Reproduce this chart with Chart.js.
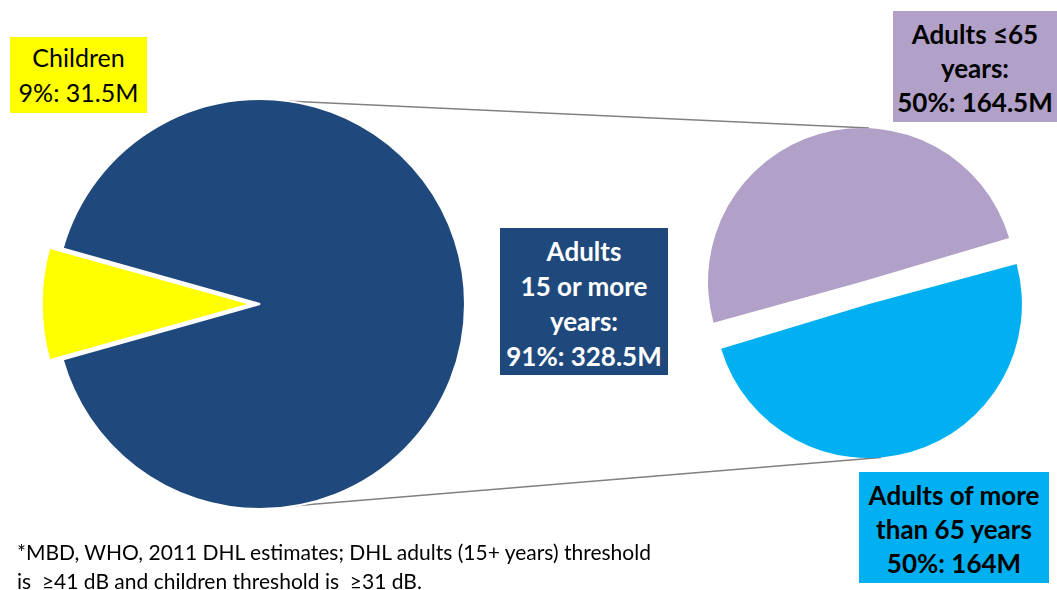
<!DOCTYPE html>
<html>
<head>
<meta charset="utf-8">
<script src="https://cdn.jsdelivr.net/npm/chart.js@4.4.1/dist/chart.umd.min.js"></script>
<style>
  html, body { margin: 0; padding: 0; background: #fff; }
  #stage { position: relative; width: 1057px; height: 590px; overflow: hidden; font-family: Lato, 'Open Sans', sans-serif; }
  canvas { position: absolute; }
  #links { left: 0; top: 0; z-index: 0; }
  #leftPie { left: 10px; top: 54px; z-index: 1; }
  #rightPie { left: 675px; top: 103px; z-index: 1; }
  .box { position: absolute; z-index: 2; box-sizing: border-box; display: flex; flex-direction: column; justify-content: center; text-align: center; color: #000; font-size: 26px; line-height: 35px; font-weight: bold; white-space: nowrap; }
  #boxChildren { left: 10px; top: 37px; width: 137px; height: 76px; background: #FFFF00; font-weight: normal; font-size: 25px; }
  #boxAdults { left: 500px; top: 228px; width: 168px; height: 147px; background: #1F497D; color: #fff; padding-top: 4px; }
  #boxUnder65 { left: 893px; top: 11px; width: 164px; height: 111px; background: #B1A0C7; line-height: 34px; padding-top: 3px; }
  #boxOver65 { left: 859px; top: 472px; width: 190px; height: 111px; background: #00B0F0; line-height: 34px; padding-top: 3px; }
  #note { position: absolute; left: 17px; top: 537px; font-size: 21px; line-height: 29px; white-space: pre; color: #000; }
</style>
</head>
<body>
<div id="stage">
  <canvas id="links" width="1057" height="590"></canvas>
  <canvas id="leftPie" width="500" height="500"></canvas>
  <canvas id="rightPie" width="380" height="380"></canvas>
  <div class="box" id="boxChildren"></div>
  <div class="box" id="boxAdults"></div>
  <div class="box" id="boxUnder65"></div>
  <div class="box" id="boxOver65"></div>
  <div id="note"></div>
</div>
<script>
// 数据：全体人群（百万）
const leftLabels = ['Children', 'Adults 15 or more years'];
const leftValues = [31.5, 328.5];
const leftPercents = [9, 91];
const leftColors = ['#FFFF00', '#1F497D'];

// 数据：成年人拆分（百万）
const rightLabels = ['Adults ≤65 years', 'Adults of more than 65 years'];
const rightValues = [164.5, 164];
const rightPercents = [50, 50];
const rightColors = ['#B1A0C7', '#00B0F0'];

const noteLines = [
  '*MBD, WHO, 2011 DHL estimates; DHL adults (15+ years) threshold',
  'is  \u226541 dB and children threshold is  \u226531 dB.'
];

function valueText(pct, val) {
  return `${pct}%: ${val}M`;
}

// 标签框文字
function fillBox(id, lines) {
  const el = document.getElementById(id);
  lines.forEach(t => {
    const d = document.createElement('div');
    d.textContent = t;
    el.appendChild(d);
  });
}
fillBox('boxChildren', ['Children', valueText(leftPercents[0], leftValues[0])]);
fillBox('boxAdults', ['Adults', '15 or more', 'years:', valueText(leftPercents[1], leftValues[1])]);
fillBox('boxUnder65', ['Adults \u226465', 'years:', valueText(rightPercents[0], rightValues[0])]);
fillBox('boxOver65', ['Adults of more', 'than 65 years', valueText(rightPercents[1], rightValues[1])]);
document.getElementById('note').textContent = noteLines.join('\n');

const baseOptions = {
  responsive: false,
  animation: false,
  events: [],
  layout: { padding: 0 },
  plugins: { legend: { display: false }, tooltip: { enabled: false } }
};

// 左侧饼图：儿童切片居左并分离
const leftChart = new Chart(document.getElementById('leftPie'), {
  type: 'pie',
  data: {
    labels: leftLabels,
    datasets: [{
      data: leftValues,
      backgroundColor: leftColors,
      borderColor: '#ffffff',
      borderWidth: 2,
      offset: [36, 0]
    }]
  },
  options: Object.assign({}, baseOptions, {
    radius: 205,
    rotation: 270 - 180 * leftValues[0] / (leftValues[0] + leftValues[1])
  })
});

// 右侧饼图：两半沿倾斜分界线分开
const rightChart = new Chart(document.getElementById('rightPie'), {
  type: 'pie',
  data: {
    labels: rightLabels,
    datasets: [{
      data: rightValues,
      backgroundColor: rightColors,
      borderWidth: 0,
      offset: 47
    }]
  },
  options: Object.assign({}, baseOptions, {
    radius: 142,
    rotation: 344 - 180 * rightValues[0] / (rightValues[0] + rightValues[1])
  })
});

// 取得切片实际绘制的圆（含偏移）
function arcCircle(chart, left, top, index) {
  const arc = chart.getDatasetMeta(0).data[index];
  const off = (arc.options.offset || 0) / 4;
  const mid = (arc.startAngle + arc.endAngle) / 2;
  const fix = 1 - Math.sin(Math.min(Math.PI, arc.circumference));
  return {
    x: left + arc.x + Math.cos(mid) * off,
    y: top + arc.y + Math.sin(mid) * off,
    r: arc.outerRadius + off * fix - (arc.options.borderWidth || 0) / 2
  };
}

// 两圆外公切线
function outerTangent(a, b, side) {
  const dx = b.x - a.x, dy = b.y - a.y;
  const d = Math.hypot(dx, dy);
  const ux = dx / d, uy = dy / d;
  const c = (a.r - b.r) / d;
  const s = Math.sqrt(1 - c * c) * side;
  const nx = ux * c - uy * s, ny = uy * c + ux * s;
  return [a.x + a.r * nx, a.y + a.r * ny, b.x + b.r * nx, b.y + b.r * ny];
}

const leftCanvas = document.getElementById('leftPie');
const rightCanvas = document.getElementById('rightPie');
const big = arcCircle(leftChart, leftCanvas.offsetLeft, leftCanvas.offsetTop, 1);
const upper = arcCircle(rightChart, rightCanvas.offsetLeft, rightCanvas.offsetTop, 0);
const lower = arcCircle(rightChart, rightCanvas.offsetLeft, rightCanvas.offsetTop, 1);

const ctx = document.getElementById('links').getContext('2d');
ctx.strokeStyle = '#808080';
ctx.lineWidth = 1.5;
[outerTangent(big, upper, -1), outerTangent(big, lower, 1)].forEach(seg => {
  ctx.beginPath();
  ctx.moveTo(seg[0], seg[1]);
  ctx.lineTo(seg[2], seg[3]);
  ctx.stroke();
});
</script>
</body>
</html>
